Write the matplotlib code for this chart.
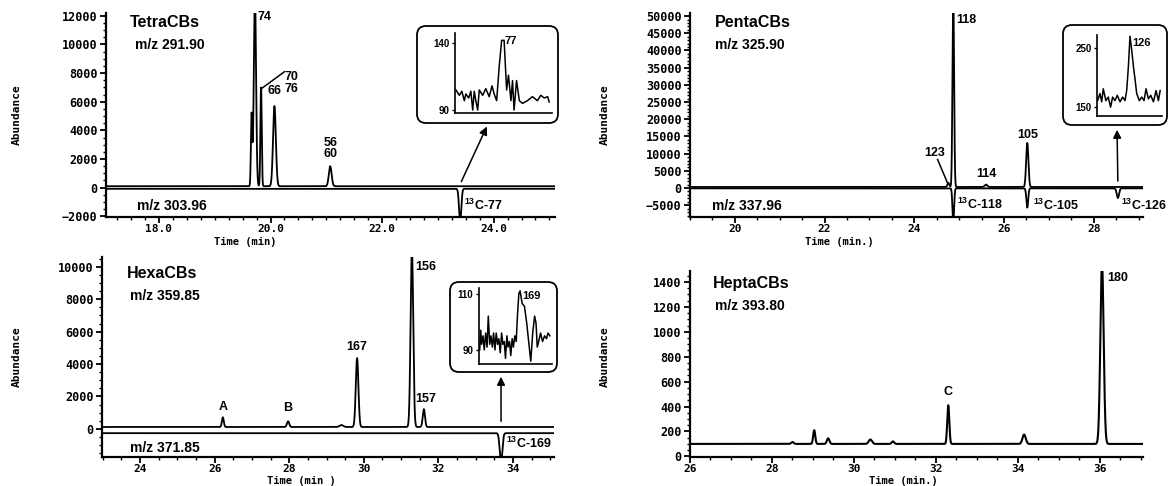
import numpy as np
import matplotlib
matplotlib.use("Agg")
import matplotlib.pyplot as plt
from matplotlib.patches import FancyBboxPatch
from matplotlib.ticker import MultipleLocator
from matplotlib.transforms import IdentityTransform

plt.rcParams['font.family'] = ['Liberation Sans', 'DejaVu Sans']
plt.rcParams['font.weight'] = 'bold'
plt.rcParams['mathtext.fontset'] = 'custom'
plt.rcParams['mathtext.rm'] = 'Liberation Sans:bold'
plt.rcParams['mathtext.bf'] = 'Liberation Sans:bold'

W, H = 1171, 486

# ---- peak tables: retention time (min), height above baseline, width (sigma, min) ----
tetra_t = [19.66, 19.72, 19.83, 20.07, 21.07]
tetra_h = [5000, 13500, 6900, 5600, 1400]
tetra_w = [0.012, 0.02, 0.012, 0.025, 0.025]
tetra_base = 100
tetra13_t = [23.40]
tetra13_h = [-2300]
tetra13_w = [0.02]
tetra13_base = -80

penta_t = [24.76, 24.87, 25.60, 26.52]
penta_h = [1200, 56000, 700, 12800]
penta_w = [0.02, 0.018, 0.03, 0.025]
penta_base = 300
penta13_t = [24.87, 26.52, 28.54]
penta13_h = [-10000, -5600, -2800]
penta13_w = [0.018, 0.02, 0.025]
penta13_base = -100

hexa_t = [26.22, 27.97, 29.40, 29.82, 31.29, 31.61]
hexa_h = [600, 350, 120, 4250, 11000, 1100]
hexa_w = [0.025, 0.03, 0.05, 0.035, 0.035, 0.03]
hexa_base = 120
hexa13_t = [33.68]
hexa13_h = [-1800]
hexa13_w = [0.035]
hexa13_base = -260

hepta_t = [28.50, 29.03, 29.37, 30.40, 30.95, 32.30, 34.15, 36.05]
hepta_h = [15, 110, 45, 35, 20, 310, 75, 1450]
hepta_w = [0.03, 0.025, 0.03, 0.04, 0.03, 0.025, 0.04, 0.04]
hepta_base = 100

# ---- inset traces (time, abundance) ----
tetra_in_t = [23.300, 23.311, 23.319, 23.327, 23.332, 23.341, 23.348, 23.354, 23.359,
              23.364, 23.370, 23.375, 23.386, 23.396, 23.407, 23.416, 23.423, 23.431,
              23.439, 23.447, 23.455, 23.463, 23.469, 23.477, 23.482, 23.487, 23.495,
              23.504, 23.514, 23.530, 23.546, 23.562, 23.573, 23.584, 23.595, 23.600]
tetra_in_y = [105, 101, 104, 97, 102, 99, 104, 90, 104, 97, 90, 105, 101, 106, 100, 108,
              102, 97, 122, 142, 142, 105, 116, 97, 112, 90, 112, 97, 95, 97, 100, 97,
              101, 99, 100, 96]

penta_in_t = [28.350, 28.365, 28.376, 28.386, 28.403, 28.418, 28.433, 28.446, 28.461,
              28.476, 28.493, 28.510, 28.525, 28.536, 28.547, 28.557, 28.568, 28.579,
              28.590, 28.600, 28.617, 28.632, 28.647, 28.660, 28.675, 28.690, 28.707,
              28.724, 28.739, 28.750]
penta_in_y = [161, 173, 159, 181, 161, 167, 150, 167, 161, 170, 159, 167, 161, 178, 219,
              270, 247, 219, 196, 173, 161, 167, 161, 181, 164, 170, 159, 178, 161, 178]

hexa_in_t = [33.450, 33.456, 33.461, 33.469, 33.476, 33.484, 33.492, 33.499, 33.507,
             33.514, 33.522, 33.529, 33.537, 33.544, 33.552, 33.559, 33.567, 33.575,
             33.582, 33.590, 33.597, 33.605, 33.612, 33.620, 33.627, 33.635, 33.642,
             33.650, 33.658, 33.665, 33.673, 33.680, 33.692, 33.705, 33.718, 33.729,
             33.741, 33.752, 33.763, 33.771, 33.778, 33.786, 33.797, 33.808, 33.820,
             33.831, 33.839, 33.850]
hexa_in_y = [90, 97, 92, 95, 90, 96, 91, 102, 92, 95, 91, 96, 90, 96, 92, 94, 89, 96, 92,
             93, 87, 95, 91, 93, 88, 94, 91, 95, 93, 102, 110, 111, 106.5, 105.5, 99.5,
             93, 86, 96, 102, 99.5, 91, 93, 96, 93, 95, 94, 96, 95]

TICK = dict(family='DejaVu Sans Mono', weight='bold', size=8.5)
XTICK = dict(family='DejaVu Sans Mono', weight='bold', size=8)
LAB = dict(family='Liberation Sans', weight='bold')
XLAB = dict(fontsize=7.5, family='DejaVu Sans Mono', weight='bold')


def rect(l, t, r, b):
    return [l / W, 1 - b / H, (r - l) / W, (b - t) / H]


def fpt(x, y):
    return (x / W, 1 - y / H)


def trace(tt, pos, hts, wds, base):
    y = np.full_like(tt, float(base))
    for p, h, w in zip(pos, hts, wds):
        y += h * np.exp(-0.5 * ((tt - p) / w) ** 2)
    return y


def style(ax, xlim, ylim, xmaj, xmin, ymaj, ymin, xfmt):
    ax.set_xlim(*xlim)
    ax.set_ylim(*ylim)
    for s in ['top', 'right']:
        ax.spines[s].set_visible(False)
    for s in ['left', 'bottom']:
        ax.spines[s].set_linewidth(1.6)
    ax.xaxis.set_major_locator(MultipleLocator(xmaj))
    ax.xaxis.set_minor_locator(MultipleLocator(xmin))
    ax.yaxis.set_major_locator(MultipleLocator(ymaj))
    ax.yaxis.set_minor_locator(MultipleLocator(ymin))
    ax.tick_params(which='major', length=4, width=1.3, pad=2)
    ax.tick_params(axis='x', which='major', pad=1)
    ax.tick_params(which='minor', length=2, width=1)
    ax.xaxis.set_major_formatter(xfmt)
    for lab in ax.get_yticklabels():
        lab.set(**TICK)
    for lab in ax.get_xticklabels():
        lab.set(**XTICK)


def inset(box, inner, t, y, ylim, yt, peak_lab):
    l, tp, r, b = box
    patch = FancyBboxPatch((l, H - b), r - l, b - tp,
                           boxstyle="round,pad=0,rounding_size=9",
                           transform=IdentityTransform(), fc='white', ec='black',
                           lw=1.3, zorder=5)
    fig.patches.append(patch)
    axi = fig.add_axes(rect(*inner), zorder=6)
    axi.patch.set_alpha(0)
    axi.plot(t, y, color='black', lw=1.1)
    axi.set_xlim(t[0] - (t[-1] - t[0]) * 0.01, t[-1] + (t[-1] - t[0]) * 0.03)
    axi.set_ylim(*ylim)
    for s in ['top', 'right']:
        axi.spines[s].set_visible(False)
    axi.spines['left'].set_linewidth(1.2)
    axi.spines['bottom'].set_linewidth(1.2)
    axi.set_xticks([])
    axi.set_yticks(yt)
    axi.tick_params(length=2, width=1, pad=2)
    for lab in axi.get_yticklabels():
        lab.set(family='Liberation Sans', weight='bold', size=7)
    i = int(np.argmax(y))
    axi.text(t[i] + (t[-1] - t[0]) * 0.03, ylim[1] - (ylim[1] - ylim[0]) * 0.1,
             peak_lab, ha='left', va='center', fontsize=8, **LAB)
    return axi


fig = plt.figure(figsize=(W / 100, H / 100), dpi=100)

# ---------------- TetraCBs ----------------
ax1 = fig.add_axes(rect(106, 13, 555, 217))
tx = np.linspace(17.05, 25.1, 6000)
ax1.plot(tx, trace(tx, tetra13_t, tetra13_h, tetra13_w, tetra13_base), color='black', lw=1.3)
ax1.plot(tx, trace(tx, tetra_t, tetra_h, tetra_w, tetra_base), color='black', lw=1.3)
style(ax1, (17.05, 25.1), (-2050, 12200), 2, 0.25, 2000, 500,
      matplotlib.ticker.FormatStrFormatter('%.1f'))
ax1.text(0.053, 0.955, 'TetraCBs', transform=ax1.transAxes, fontsize=11.5, va='center', **LAB)
ax1.text(0.065, 0.845, 'm/z 291.90', transform=ax1.transAxes, fontsize=10, va='center', **LAB)
ax1.text(0.07, 0.055, 'm/z 303.96', transform=ax1.transAxes, fontsize=10, va='center', **LAB)
ax1.text(tetra_t[1] + 0.04, 11900, '74', fontsize=9, va='center', **LAB)
ax1.text(20.38, 7300, '70\n76', fontsize=9, va='center', ha='center', linespacing=0.95, **LAB)
ax1.plot([tetra_t[2], 20.25], [6900, 8100], color='black', lw=1.1)
ax1.text(tetra_t[3], 6300, '66', fontsize=9, ha='center', va='bottom', **LAB)
ax1.text(tetra_t[4], 1900, '56\n60', fontsize=9, ha='center', va='bottom', linespacing=0.95, **LAB)
ax1.text(tetra13_t[0] + 0.07, -1250, '$^{13}$C-77', fontsize=9, va='center', **LAB)
ax1.set_xlabel('Time (min)', **XLAB)
ax1.xaxis.set_label_coords(0.31, -0.1)
fig.text(*fpt(17, 115), 'Abundance', rotation=90, ha='center', va='center',
         fontsize=8, family='DejaVu Sans Mono', weight='bold')
inset((417, 26, 558, 123), (455, 33, 552, 113), tetra_in_t, tetra_in_y,
      (87.8, 147.5), [90, 140], '77')
ax1.annotate('', xy=fpt(488, 124), xycoords='figure fraction',
             xytext=(tetra13_t[0], 250), textcoords='data',
             arrowprops=dict(arrowstyle='-|>', color='black', lw=1.1, mutation_scale=12))

# ---------------- PentaCBs ----------------
ax2 = fig.add_axes(rect(690, 13, 1143, 217))
px = np.linspace(19.0, 29.1, 6000)
ax2.plot(px, trace(px, penta13_t, penta13_h, penta13_w, penta13_base), color='black', lw=1.3)
ax2.plot(px, trace(px, penta_t, penta_h, penta_w, penta_base), color='black', lw=1.3)
style(ax2, (19.0, 29.1), (-8430, 50900), 2, 0.5, 5000, 1000,
      matplotlib.ticker.FormatStrFormatter('%d'))
ax2.text(0.055, 0.955, 'PentaCBs', transform=ax2.transAxes, fontsize=11.5, va='center', **LAB)
ax2.text(0.055, 0.845, 'm/z 325.90', transform=ax2.transAxes, fontsize=10, va='center', **LAB)
ax2.text(0.048, 0.055, 'm/z 337.96', transform=ax2.transAxes, fontsize=10, va='center', **LAB)
ax2.text(penta_t[1] + 0.07, 49000, '118', fontsize=9, va='center', **LAB)
ax2.text(24.45, 10300, '123', fontsize=9, ha='center', va='center', **LAB)
ax2.plot([24.52, 24.75], [8300, 1200], color='black', lw=1.1)
ax2.text(penta_t[2], 2200, '114', fontsize=9, ha='center', va='bottom', **LAB)
ax2.text(penta_t[3], 13800, '105', fontsize=9, ha='center', va='bottom', **LAB)
ax2.text(penta13_t[0] + 0.08, -4900, '$^{13}$C-118', fontsize=9, va='center', **LAB)
ax2.text(penta13_t[1] + 0.12, -5100, '$^{13}$C-105', fontsize=9, va='center', **LAB)
ax2.text(penta13_t[2] + 0.08, -5100, '$^{13}$C-126', fontsize=9, va='center', **LAB)
ax2.set_xlabel('Time (min.)', **XLAB)
ax2.xaxis.set_label_coords(0.33, -0.1)
fig.text(*fpt(605, 115), 'Abundance', rotation=90, ha='center', va='center',
         fontsize=8, family='DejaVu Sans Mono', weight='bold')
inset((1063, 25, 1167, 125), (1097, 35, 1162, 116), penta_in_t, penta_in_y,
      (135, 272), [150, 250], '126')
ax2.annotate('', xy=fpt(1117, 127), xycoords='figure fraction',
             xytext=(penta13_t[2], 1200), textcoords='data',
             arrowprops=dict(arrowstyle='-|>', color='black', lw=1.1, mutation_scale=12))

# ---------------- HexaCBs ----------------
ax3 = fig.add_axes(rect(102, 257, 554, 457))
hx = np.linspace(22.98, 35.1, 6000)
ax3.plot(hx, trace(hx, hexa13_t, hexa13_h, hexa13_w, hexa13_base), color='black', lw=1.3)
ax3.plot(hx, trace(hx, hexa_t, hexa_h, hexa_w, hexa_base), color='black', lw=1.3)
style(ax3, (22.98, 35.1), (-1730, 10600), 2, 0.5, 2000, 500,
      matplotlib.ticker.FormatStrFormatter('%d'))
ax3.text(0.055, 0.92, 'HexaCBs', transform=ax3.transAxes, fontsize=11.5, va='center', **LAB)
ax3.text(0.062, 0.805, 'm/z 359.85', transform=ax3.transAxes, fontsize=10, va='center', **LAB)
ax3.text(0.062, 0.045, 'm/z 371.85', transform=ax3.transAxes, fontsize=10, va='center', **LAB)
ax3.text(hexa_t[0], 1000, 'A', fontsize=9, ha='center', va='bottom', **LAB)
ax3.text(hexa_t[1], 950, 'B', fontsize=9, ha='center', va='bottom', **LAB)
ax3.text(hexa_t[3], 4700, '167', fontsize=9, ha='center', va='bottom', **LAB)
ax3.text(hexa_t[4] + 0.09, 10000, '156', fontsize=9, va='center', **LAB)
ax3.text(hexa_t[5] + 0.05, 1500, '157', fontsize=9, ha='center', va='bottom', **LAB)
ax3.text(hexa13_t[0] + 0.12, -900, '$^{13}$C-169', fontsize=9, va='center', **LAB)
ax3.set_xlabel('Time (min )', **XLAB)
ax3.xaxis.set_label_coords(0.44, -0.096)
fig.text(*fpt(17, 357), 'Abundance', rotation=90, ha='center', va='center',
         fontsize=8, family='DejaVu Sans Mono', weight='bold')
inset((450, 282, 557, 372), (479, 288, 552, 364), hexa_in_t, hexa_in_y,
      (85, 112), [90, 110], '169')
ax3.annotate('', xy=fpt(501, 374), xycoords='figure fraction',
             xytext=(hexa13_t[0], 300), textcoords='data',
             arrowprops=dict(arrowstyle='-|>', color='black', lw=1.1, mutation_scale=12))

# ---------------- HeptaCBs ----------------
ax4 = fig.add_axes(rect(690, 271, 1143, 457))
kx = np.linspace(26.0, 37.05, 6000)
ax4.plot(kx, trace(kx, hepta_t, hepta_h, hepta_w, hepta_base), color='black', lw=1.5)
style(ax4, (26.0, 37.05), (-5, 1488), 2, 0.5, 200, 50,
      matplotlib.ticker.FormatStrFormatter('%d'))
ax4.text(0.05, 0.935, 'HeptaCBs', transform=ax4.transAxes, fontsize=11.5, va='center', **LAB)
ax4.text(0.055, 0.81, 'm/z 393.80', transform=ax4.transAxes, fontsize=10, va='center', **LAB)
ax4.text(hepta_t[5], 470, 'C', fontsize=9, ha='center', va='bottom', **LAB)
ax4.text(hepta_t[7] + 0.12, 1430, '180', fontsize=9, va='center', **LAB)
ax4.set_xlabel('Time (min.)', **XLAB)
ax4.xaxis.set_label_coords(0.47, -0.103)
fig.text(*fpt(605, 357), 'Abundance', rotation=90, ha='center', va='center',
         fontsize=8, family='DejaVu Sans Mono', weight='bold')

fig.savefig('out.png', dpi=100)
